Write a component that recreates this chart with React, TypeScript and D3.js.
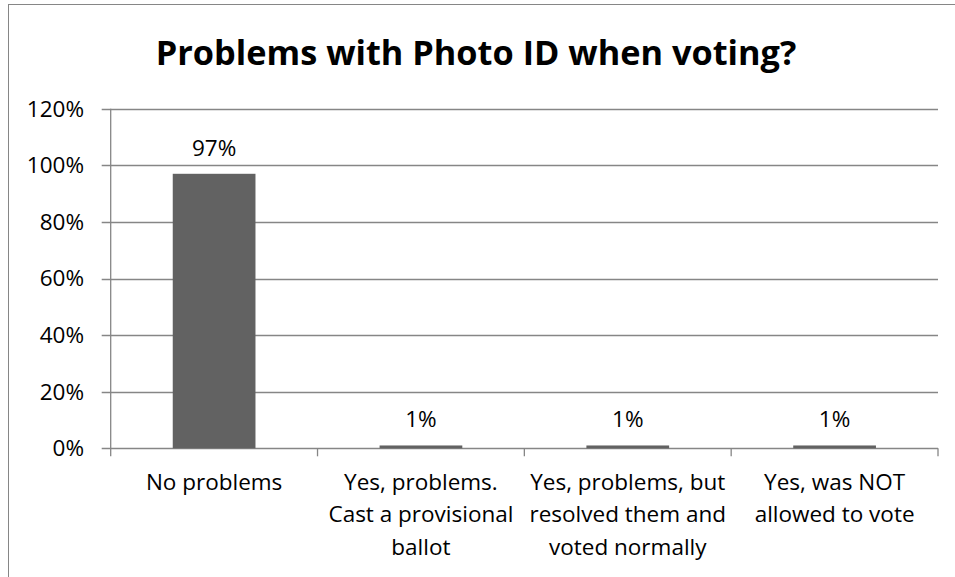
import React from "react";
import * as d3 from "d3";

const categories = ["No problems", "Yes, problems. Cast a provisional ballot", "Yes, problems, but resolved them and voted normally", "Yes, was NOT allowed to vote"];
const categoryLines = [["No problems"], ["Yes, problems.", "Cast a provisional", "ballot"], ["Yes, problems, but", "resolved them and", "voted normally"], ["Yes, was NOT", "allowed to vote"]];
const values = [0.97, 0.01, 0.01, 0.01];
const yTicks = [0, 0.2, 0.4, 0.6, 0.8, 1.0, 1.2];
const title = "Problems with Photo ID when voting?";

const FONT = "'Open Sans', sans-serif";

export default function App() {
  const left = 110.7, right = 938, top = 108.7, bottom = 448.3;
  const y = d3.scaleLinear().domain([0, 1.2]).range([bottom, top]);
  const x = d3.scaleBand<string>().domain(categories).range([left, right]).paddingInner(0.6).paddingOuter(0.3);
  const step = x.step();
  const grid = "#868686";
  const boundaries = d3.range(categories.length + 1).map((i) => left + i * step);
  return (
    <svg width={955} height={577} style={{ position: "absolute", left: 0, top: 0, background: "#fff" }} fontFamily={FONT}>
      <rect x={8.5} y={4.5} width={980} height={620} fill="#fff" stroke={grid} strokeWidth={1} />
      <text x={476} y={65} textAnchor="middle" fontWeight="bold" fontSize={34.3} fill="#000">{title}</text>
      {yTicks.map((t) => (
        <g key={t}>
          <line x1={101.7} x2={right} y1={Math.round(y(t)) + 0.5} y2={Math.round(y(t)) + 0.5} stroke={grid} strokeWidth={1.3} />
          <text x={84} y={y(t)} dy="0.35em" textAnchor="end" fontSize={22.5} fill="#000">{d3.format(".0%")(t)}</text>
        </g>
      ))}
      <line x1={left} x2={left} y1={top} y2={bottom} stroke={grid} strokeWidth={1.3} />
      {boundaries.map((b, i) => (
        <line key={i} x1={b} x2={b} y1={bottom} y2={bottom + 8} stroke={grid} strokeWidth={1.3} />
      ))}
      {categories.map((c, i) => (
        <g key={c}>
          <rect x={x(c)} y={y(values[i])} width={x.bandwidth()} height={bottom - y(values[i])} fill="#626262" />
          <text x={(x(c) as number) + x.bandwidth() / 2} y={y(values[i]) - 18} textAnchor="middle" fontSize={22.5} fill="#000">{d3.format(".0%")(values[i])}</text>
          {categoryLines[i].map((ln, j) => (
            <text key={j} x={(x(c) as number) + x.bandwidth() / 2} y={490 + j * 32.3} textAnchor="middle" fontSize={22.5} fill="#000">{ln}</text>
          ))}
        </g>
      ))}
    </svg>
  );
}
